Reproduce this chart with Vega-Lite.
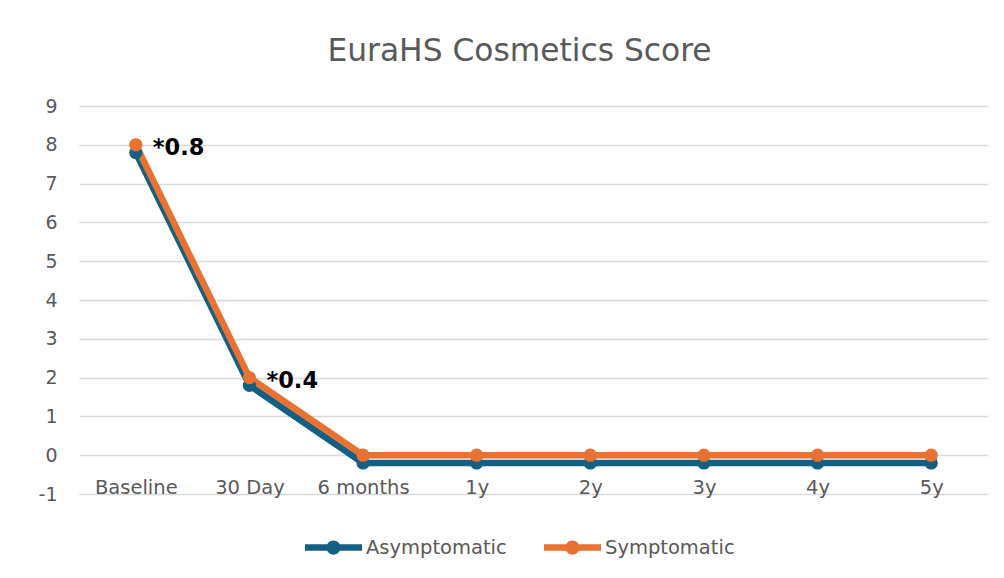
{
  "$schema": "https://vega.github.io/schema/vega-lite/v6.json",
  "width": 909,
  "height": 388,
  "autosize": {"type": "none"},
  "padding": {"left": 79, "top": 106, "right": 16, "bottom": 84},
  "background": "white",
  "title": {"text": "EuraHS Cosmetics Score", "font": "DejaVu Sans", "fontSize": 31.3, "fontWeight": "normal", "color": "#595959", "offset": 30, "dx": -14, "anchor": "middle"},
  "config": {"view": {"stroke": null}},
  "datasets": {
    "series": [
      {"time": "Baseline", "group": "Asymptomatic", "value": 7.8},
      {"time": "30 Day", "group": "Asymptomatic", "value": 1.8},
      {"time": "6 months", "group": "Asymptomatic", "value": -0.2},
      {"time": "1y", "group": "Asymptomatic", "value": -0.2},
      {"time": "2y", "group": "Asymptomatic", "value": -0.2},
      {"time": "3y", "group": "Asymptomatic", "value": -0.2},
      {"time": "4y", "group": "Asymptomatic", "value": -0.2},
      {"time": "5y", "group": "Asymptomatic", "value": -0.2},
      {"time": "Baseline", "group": "Symptomatic", "value": 8},
      {"time": "30 Day", "group": "Symptomatic", "value": 2},
      {"time": "6 months", "group": "Symptomatic", "value": 0},
      {"time": "1y", "group": "Symptomatic", "value": 0},
      {"time": "2y", "group": "Symptomatic", "value": 0},
      {"time": "3y", "group": "Symptomatic", "value": 0},
      {"time": "4y", "group": "Symptomatic", "value": 0},
      {"time": "5y", "group": "Symptomatic", "value": 0}
    ],
    "labels": [
      {"time": "Baseline", "value": 8, "label": "*0.8"},
      {"time": "30 Day", "value": 2, "label": "*0.4"}
    ]
  },
  "data": {"name": "series"},
  "encoding": {
    "x": {"field": "time", "type": "nominal", "sort": ["Baseline", "30 Day", "6 months", "1y", "2y", "3y", "4y", "5y"],
      "axis": {"title": null, "labelAngle": 0, "domain": false, "ticks": false, "tickSize": 0, "grid": false, "labelFont": "DejaVu Sans", "labelFontSize": 19.5, "labelColor": "#595959", "labelBaseline": "middle", "labelPadding": -7}},
    "y": {"field": "value", "type": "quantitative", "scale": {"domain": [-1, 9], "nice": false},
      "axis": {"title": null, "values": [-1, 0, 1, 2, 3, 4, 5, 6, 7, 8, 9], "tickCount": 11, "labelExpr": "'' + datum.value", "labelOverlap": false, "domain": false, "ticks": false, "tickSize": 0, "gridColor": "#d9d9d9", "gridWidth": 1.5, "labelFont": "DejaVu Sans", "labelFontSize": 19, "labelColor": "#595959", "labelPadding": 22}}
  },
  "layer": [
    {
      "mark": {"type": "line", "strokeWidth": 6.5},
      "encoding": {
        "color": {"field": "group", "type": "nominal", "scale": {"domain": ["Asymptomatic", "Symptomatic"], "range": ["#156082", "#E97132"]},
          "legend": {"title": null, "orient": "none", "direction": "horizontal", "legendX": 226, "legendY": 413, "symbolType": "M-1,-0.11L1,-0.11L1,0.11L-1,0.11Z M-0.25,0A0.25,0.25 0 1,1 0.25,0A0.25,0.25 0 1,1 -0.25,0Z", "symbolSize": 3249, "symbolStrokeWidth": 0, "symbolOpacity": 1, "labelFont": "DejaVu Sans", "labelFontSize": 19.5, "labelColor": "#595959", "labelOffset": 4, "columnPadding": 37}}
      }
    },
    {
      "mark": {"type": "point", "filled": true, "size": 175, "opacity": 1},
      "encoding": {
        "color": {"field": "group", "type": "nominal"}
      }
    },
    {
      "data": {"name": "labels"},
      "mark": {"type": "text", "align": "left", "baseline": "middle", "dx": 17, "dy": 3, "font": "DejaVu Sans", "fontWeight": "bold", "fontSize": 22.5, "color": "black"},
      "encoding": {
        "text": {"field": "label"}
      }
    }
  ]
}
